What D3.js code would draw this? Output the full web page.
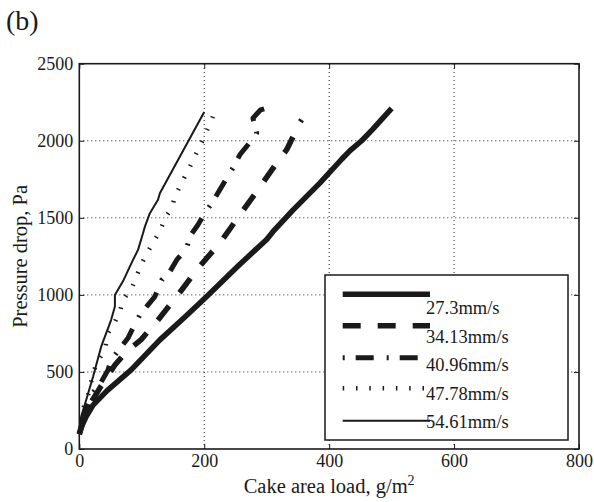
<!DOCTYPE html>
<html>
<head>
<meta charset="UTF-8">
<title>Pressure drop vs cake area load</title>
<style>
  body { margin: 0; background: #fff; }
  text { font-family: "Liberation Serif", "Times New Roman", serif; fill: #1a1a1a; }
</style>
</head>
<body>
<svg></svg>
<script src="https://d3js.org/d3.v7.min.js"></script>
<script>

const width = 594, height = 502;

// data: [cake area load g/m2, pressure drop Pa]
const labels = ["27.3mm/s", "34.13mm/s", "40.96mm/s", "47.78mm/s", "54.61mm/s"];

const v273 = [[0,95],[4,150],[11,210],[22,285],[45,380],[83,513],[129,708],[170,860],[204,990],
  [255,1190],[300,1360],[310,1410],[342,1550],[385,1725],[420,1880],[433,1935],[452,2000],[470,2075],[500,2210]];

const v3413 = [[0,100],[8,200],[20,310],[35,410],[57,545],[75,630],[99,710],[124,827],[158,1000],
  [190,1173],[225,1336],[257,1519],[286,1682],[316,1855],[332,1942],[345,2050],[350,2100],[356,2136]];

const v4096 = [[0,100],[8,220],[19,351],[33,420],[46,513],[51,578],[78,720],[87,794],[97,870],
  [110,935],[121,989],[132,1097],[145,1151],[156,1227],[172,1303],[177,1379],[190,1455],[201,1530],
  [212,1595],[225,1682],[236,1758],[246,1823],[257,1909],[270,1974],[284,2050],[278,2147],[290,2200],[300,2212]];

const v4778 = [[0,100],[5,250],[14,351],[19,437],[27,556],[41,643],[46,751],[57,826],[65,892],
  [70,968],[84,1043],[100,1206],[118,1340],[129,1411],[137,1498],[148,1563],[153,1638],[169,1768],
  [180,1855],[190,1942],[198,2006],[214,2158]];

const v5461 = [[0,130],[3,210],[11,318],[22,469],[35,664],[51,838],[57,924],[57,1000],[71,1097],
  [86,1227],[94,1292],[102,1400],[105,1443],[113,1530],[126,1617],[129,1660],[167,1942],[200,2186]];

const xTicks = [0, 200, 400, 600, 800];
const yTicks = [0, 500, 1000, 1500, 2000, 2500];

const series = [v273, v3413, v4096, v4778, v5461];
const styles = [
  { w: 5.5, dash: null },
  { w: 5.5, dash: "18,17" },
  { w: 5, dash: "2,11,18,13" },
  { w: 4.5, dash: "1.5,11.8" },
  { w: 2, dash: null }
];

const svg = d3.select("svg")
  .attr("width", width)
  .attr("height", height);

const x = d3.scaleLinear().domain([0, 800]).range([79.3, 579]);
const y = d3.scaleLinear().domain([0, 2500]).range([449, 63.7]);

// dotted grid
const grid = svg.append("g").attr("stroke", "#222").attr("stroke-width", 1).attr("stroke-dasharray", "1,3");
grid.selectAll("line.gx")
  .data(xTicks.slice(1, -1))
  .enter().append("line")
  .attr("x1", d => x(d)).attr("x2", d => x(d))
  .attr("y1", y(0)).attr("y2", y(2500));
grid.selectAll("line.gy")
  .data(yTicks.slice(1, -1))
  .enter().append("line")
  .attr("x1", x(0)).attr("x2", x(800))
  .attr("y1", d => y(d)).attr("y2", d => y(d));

// curves
const line = d3.line().x(d => x(d[0])).y(d => y(d[1]));
svg.append("g")
  .selectAll("path")
  .data(series)
  .enter().append("path")
  .attr("d", line)
  .attr("fill", "none")
  .attr("stroke", "#1a1a1a")
  .attr("stroke-linejoin", "round")
  .attr("stroke-width", (d, i) => styles[i].w)
  .attr("stroke-dasharray", (d, i) => styles[i].dash);

// axes, ticks pointing inward
function styleAxis(g) {
  g.select(".domain").remove();
  g.selectAll(".tick line").attr("stroke", "#1a1a1a").attr("stroke-width", 1);
  g.selectAll("text").attr("font-size", 18).attr("font-family", "Liberation Serif").attr("fill", "#1a1a1a");
}

const fmt = d3.format("d");
svg.append("g").attr("transform", "translate(0," + y(0) + ")")
  .call(d3.axisBottom(x).tickValues(xTicks).tickFormat(fmt).tickSize(-5).tickPadding(5))
  .call(styleAxis);
svg.append("g").attr("transform", "translate(0," + y(2500) + ")")
  .call(d3.axisTop(x).tickValues(xTicks).tickSize(-5).tickFormat(""))
  .call(styleAxis);
svg.append("g").attr("transform", "translate(" + x(0) + ",0)")
  .call(d3.axisLeft(y).tickValues(yTicks).tickFormat(fmt).tickSize(-5).tickPadding(6))
  .call(styleAxis);
svg.append("g").attr("transform", "translate(" + x(800) + ",0)")
  .call(d3.axisRight(y).tickValues(yTicks).tickSize(-5).tickFormat(""))
  .call(styleAxis);

// frame
svg.append("rect")
  .attr("x", x(0)).attr("y", y(2500))
  .attr("width", x(800) - x(0)).attr("height", y(0) - y(2500))
  .attr("fill", "none").attr("stroke", "#1a1a1a").attr("stroke-width", 1.6);

// legend
const lg = svg.append("g");
lg.append("rect")
  .attr("x", 325).attr("y", 275).attr("width", 243).attr("height", 165)
  .attr("fill", "#fff").attr("stroke", "#1a1a1a").attr("stroke-width", 1.5);

const rowY = [294.3, 325.7, 357.7, 388.3, 420.7];
const textY = [314, 342.5, 371, 400, 428];
lg.selectAll("line.key")
  .data(labels)
  .enter().append("line")
  .attr("x1", 342.7).attr("x2", 430)
  .attr("y1", (d, i) => rowY[i]).attr("y2", (d, i) => rowY[i])
  .attr("stroke", "#1a1a1a")
  .attr("stroke-width", (d, i) => styles[i].w)
  .attr("stroke-dasharray", (d, i) => styles[i].dash);
lg.selectAll("text")
  .data(labels)
  .enter().append("text")
  .attr("x", 426).attr("y", (d, i) => textY[i])
  .attr("font-size", 18.5)
  .text(d => d);

// axis titles
const xl = svg.append("text")
  .attr("x", (x(0) + x(800)) / 2).attr("y", 493)
  .attr("text-anchor", "middle")
  .attr("font-size", 20.5);
xl.append("tspan").text("Cake area load, g/m");
xl.append("tspan").attr("dy", -8).attr("font-size", 14).text("2");

svg.append("text")
  .attr("transform", "translate(27," + (y(0) + y(2500)) / 2 + ") rotate(-90)")
  .attr("text-anchor", "middle")
  .attr("font-size", 20.5)
  .text("Pressure drop, Pa");

svg.append("text")
  .attr("x", 6).attr("y", 30)
  .attr("font-size", 28)
  .text("(b)");

</script>
</body>
</html>
